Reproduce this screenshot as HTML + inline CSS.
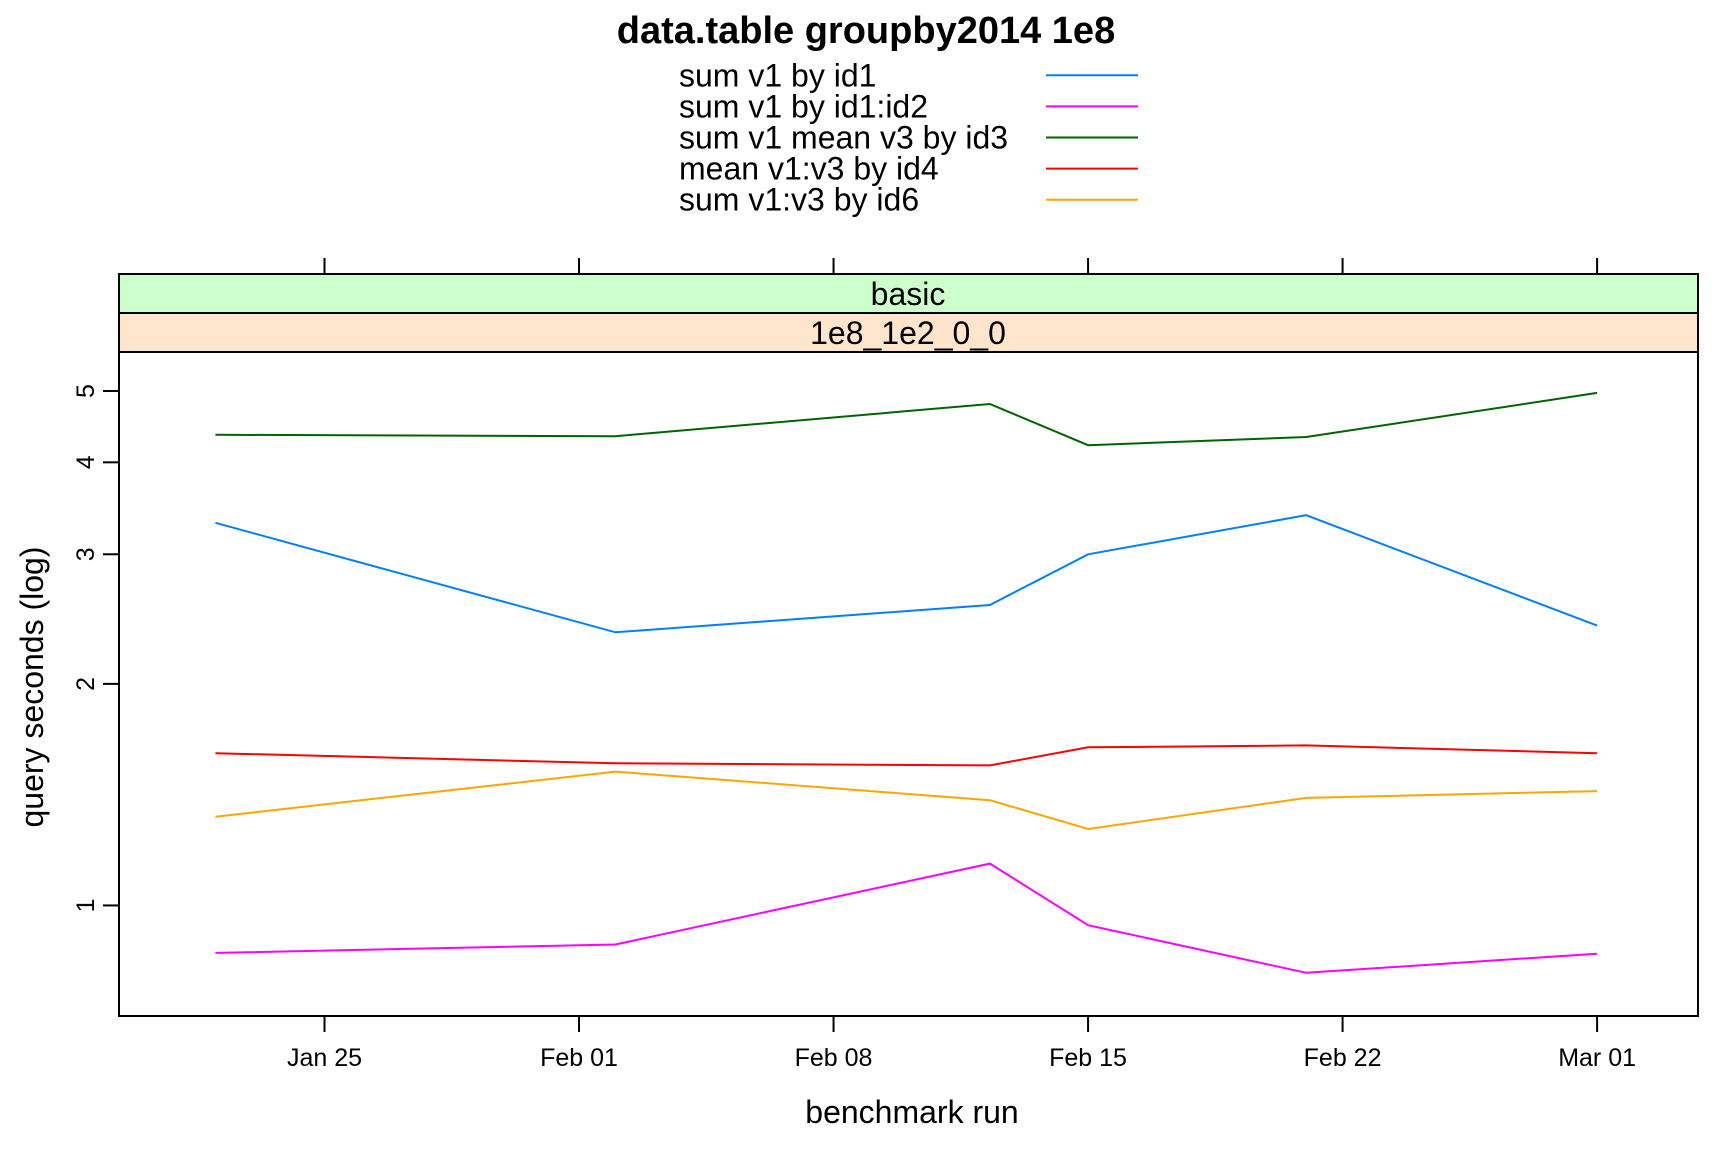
<!DOCTYPE html>
<html><head><meta charset="utf-8"><style>
html,body{margin:0;padding:0;background:#fff;}
svg{display:block;font-family:"Liberation Sans",sans-serif;}
</style></head><body>
<svg id="chart" width="1728" height="1152" viewBox="0 0 1728 1152">
<text x="866" y="43" text-anchor="middle" font-size="38" font-weight="bold">data.table groupby2014 1e8</text>
<g id="legend"></g>
<rect x="119" y="274" width="1579" height="39" fill="#ccffcc" stroke="#000" stroke-width="2"/>
<text x="908" y="305" text-anchor="middle" font-size="32">basic</text>
<rect x="119" y="313" width="1579" height="39" fill="#ffe5cc" stroke="#000" stroke-width="2"/>
<text x="908" y="344" text-anchor="middle" font-size="32">1e8_1e2_0_0</text>
<rect x="119" y="352" width="1579" height="664" fill="none" stroke="#000" stroke-width="2"/>
<g id="axes"></g>
<g id="series"></g>
<text x="912" y="1123" text-anchor="middle" font-size="32">benchmark run</text>
<text transform="translate(43,687) rotate(-90)" text-anchor="middle" font-size="32">query seconds (log)</text>
</svg>
<script>
const NS='http://www.w3.org/2000/svg';
const runDays=[21,32,42.3,45,51,59];
const seriesNames=['sum v1 by id1','sum v1 by id1:id2','sum v1 mean v3 by id3','mean v1:v3 by id4','sum v1:v3 by id6'];
const seriesColors=['#0080ff','#ff00ff','#006400','#ff0000','#ffa500'];
const sId1=[3.31,2.35,2.56,3.00,3.39,2.40];
const sId1Id2=[0.862,0.885,1.14,0.94,0.81,0.86];
const sId3=[4.36,4.34,4.80,4.22,4.33,4.97];
const sId4=[1.61,1.56,1.55,1.64,1.65,1.61];
const sId6=[1.32,1.52,1.39,1.27,1.40,1.43];
const xTickDays=[24,31,38,45,52,59];
const xTickLabels=['Jan 25','Feb 01','Feb 08','Feb 15','Feb 22','Mar 01'];
const yTicks=[1,2,3,4,5];
const allSeries=[sId1,sId1Id2,sId3,sId4,sId6];
function xs(d){return 324.5+(d-24)*36.36;}
function ys(v){return 391+(Math.log10(5)-Math.log10(v))*736;}
function mk(tag,attrs,parent){const e=document.createElementNS(NS,tag);for(const k in attrs)e.setAttribute(k,attrs[k]);parent.appendChild(e);return e;}
const axes=document.getElementById('axes');
xTickDays.forEach((d,i)=>{
 const x=xs(d);
 let t=mk('line',{x1:x,x2:x,y1:1016,y2:1032,stroke:'#000','stroke-width':2},axes);
 
 
 let t2=mk('line',{x1:x,x2:x,y1:258,y2:274,stroke:'#000','stroke-width':2},axes);
 
 
 let l=mk('text',{x:x,y:1066,'text-anchor':'middle','font-size':25},axes);
 l.textContent=xTickLabels[i];
 
 
});
yTicks.forEach(v=>{
 const y=ys(v);
 let t=mk('line',{x1:103,x2:119,y1:y,y2:y,stroke:'#000','stroke-width':2},axes);
 
 
 let l=mk('text',{transform:'translate(94,'+y+') rotate(-90)','text-anchor':'middle','font-size':25},axes);
 l.textContent=String(v);
 
 
});
const sg=document.getElementById('series');
allSeries.forEach((vals,i)=>{
 const pts=vals.map((v,j)=>xs(runDays[j]).toFixed(1)+','+ys(v).toFixed(1)).join(' ');
 let p=mk('polyline',{points:pts,fill:'none',stroke:seriesColors[i],'stroke-width':2},sg);
 
 
});
const lg=document.getElementById('legend');
seriesNames.forEach((n,i)=>{
 const y=75.3+i*31.1;
 let t=mk('text',{x:679,y:y+11,'font-size':32},lg);
 t.textContent=n;
 
 
 let l=mk('line',{x1:1046,x2:1138,y1:y,y2:y,stroke:seriesColors[i],'stroke-width':2},lg);
 
 
});
</script>
</body></html>
